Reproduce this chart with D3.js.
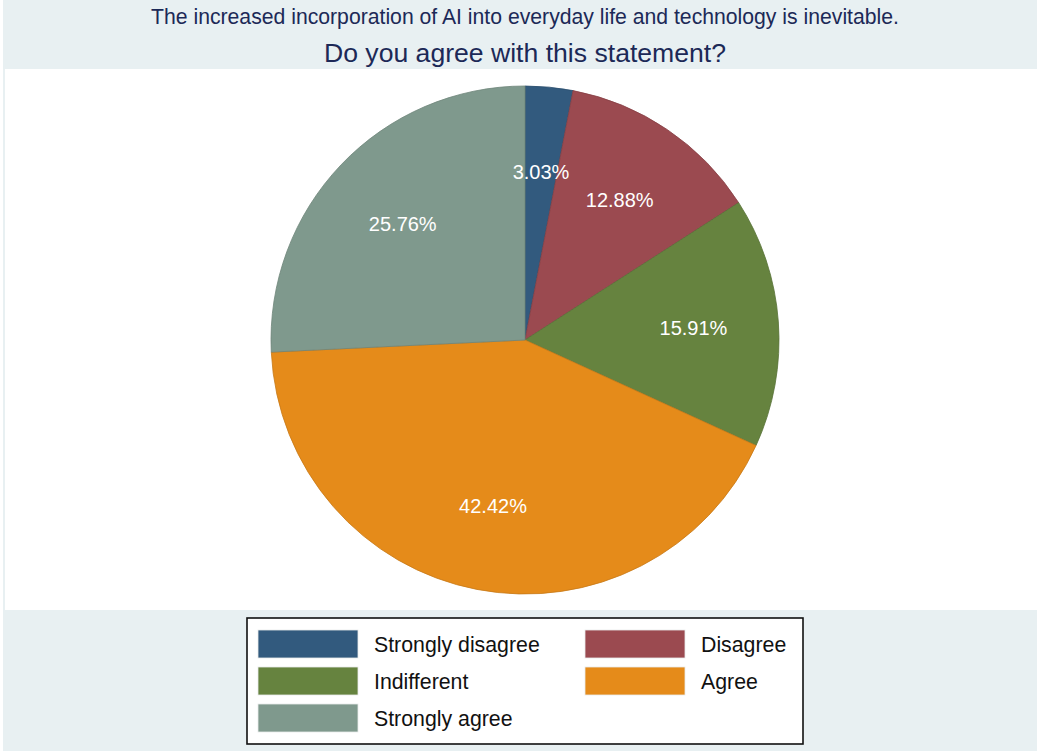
<!DOCTYPE html>
<html>
<head>
<meta charset="utf-8">
<script src="https://cdn.jsdelivr.net/npm/d3@7"></script>
<style>
  body { margin: 0; background: #fff; }
  svg { display: block; font-family: "Liberation Sans", Arial, sans-serif; }
</style>
</head>
<body>
<script>
// data
var categories = ["Strongly disagree", "Disagree", "Indifferent", "Agree", "Strongly agree"];
var percents = [3.03, 12.88, 15.91, 42.42, 25.76];
var colors = ["#325a7e", "#9b4a50", "#66833f", "#e58b1a", "#7f998d"];
var titleLines = ["The increased incorporation of AI into everyday life and technology is inevitable.",
                  "Do you agree with this statement?"];

var width = 1037, height = 751;

var svg = d3.select("body").append("svg")
    .attr("width", width)
    .attr("height", height);

// outer background + plot region
svg.append("rect")
    .attr("x", 3).attr("y", 0)
    .attr("width", width - 3).attr("height", height)
    .attr("fill", "#e8f0f2");
svg.append("rect")
    .attr("x", 5).attr("y", 69)
    .attr("width", width - 5).attr("height", 541)
    .attr("fill", "#fff");

// titles
svg.append("text")
    .attr("x", 525).attr("y", 24)
    .attr("text-anchor", "middle")
    .attr("font-size", 21.2)
    .attr("fill", "#1c2957")
    .text(titleLines[0]);
svg.append("text")
    .attr("x", 525).attr("y", 62)
    .attr("text-anchor", "middle")
    .attr("font-size", 26.6)
    .attr("fill", "#1c2957")
    .text(titleLines[1]);

// pie
var cx = 525, cy = 340, r = 254;
var data = categories.map(function(c, i) { return {name: c, value: percents[i], color: colors[i]}; });

var pie = d3.pie()
    .sort(null)
    .value(function(d) { return d.value; });
var arc = d3.arc().innerRadius(0).outerRadius(r);
var labelArc = d3.arc().innerRadius(r * 0.665).outerRadius(r * 0.665);

var g = svg.append("g")
    .attr("transform", "translate(" + cx + "," + cy + ")");

var slices = pie(data);

g.selectAll("path")
    .data(slices)
    .enter().append("path")
      .attr("d", arc)
      .attr("fill", function(d) { return d.data.color; })
      .attr("stroke", function(d) { return d3.color(d.data.color).darker(0.4); })
      .attr("stroke-width", 0.8);

g.selectAll("text")
    .data(slices)
    .enter().append("text")
      .attr("transform", function(d) { return "translate(" + labelArc.centroid(d) + ")"; })
      .attr("text-anchor", "middle")
      .attr("dy", "0.36em")
      .attr("font-size", 20)
      .attr("fill", "#fff")
      .text(function(d) { return d.data.value.toFixed(2) + "%"; });

// legend
var legend = svg.append("g");
legend.append("rect")
    .attr("x", 247).attr("y", 618)
    .attr("width", 556).attr("height", 126)
    .attr("fill", "#fff")
    .attr("stroke", "#111")
    .attr("stroke-width", 1.6);

var item = legend.selectAll("g.item")
    .data(data)
    .enter().append("g")
      .attr("class", "item")
      .attr("transform", function(d, i) {
        return "translate(" + (258 + (i % 2) * 327) + "," + (630 + Math.floor(i / 2) * 37) + ")";
      });

item.append("rect")
    .attr("width", 100).attr("height", 28)
    .attr("fill", function(d) { return d.color; })
    .attr("stroke", "#e8eaea")
    .attr("stroke-width", 0.8);

item.append("text")
    .attr("x", 116).attr("y", 14)
    .attr("dy", "0.36em")
    .attr("font-size", 21.3)
    .attr("fill", "#111")
    .text(function(d) { return d.name; });
</script>
</body>
</html>
